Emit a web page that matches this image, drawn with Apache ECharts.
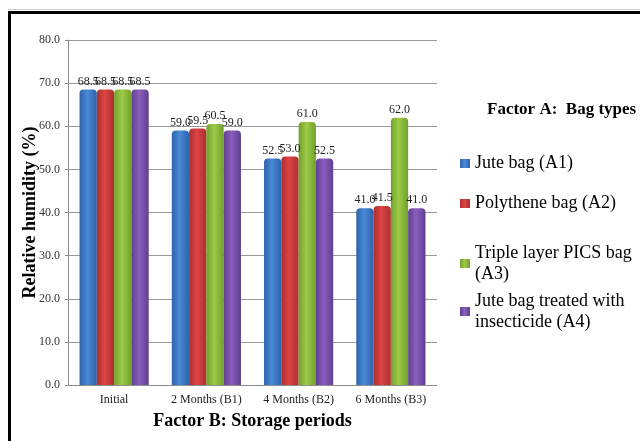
<!DOCTYPE html>
<html>
<head>
<meta charset="utf-8">
<script src="https://cdn.jsdelivr.net/npm/echarts@6/dist/echarts.min.js"></script>
<style>
html,body{margin:0;padding:0;background:#fff;}
#chart{position:absolute;left:0;top:0;width:640px;height:441px;}
#frame{position:absolute;left:8px;top:11px;width:700px;height:500px;border-left:3px solid #000;border-top:3px solid #000;pointer-events:none;}
#frame2{position:absolute;left:8px;top:9px;width:700px;height:1px;background:#ccc;}
</style>
</head>
<body>
<div id="chart"></div>
<div id="frame2"></div>
<div id="frame"></div>
<script>
const categories = ['Initial', '2 Months (B1)', '4 Months (B2)', '6 Months (B3)'];
const seriesNames = ['Jute bag (A1)', 'Polythene bag (A2)', 'Triple layer PICS bag\n(A3)', 'Jute bag treated with\ninsecticide (A4)'];
const juteBag = [68.5, 59.0, 52.5, 41.0];
const polytheneBag = [68.5, 59.5, 53.0, 41.5];
const picsBag = [68.5, 60.5, 61.0, 62.0];
const juteTreated = [68.5, 59.0, 52.5, 41.0];
const yTicks = [0, 10, 20, 30, 40, 50, 60, 70, 80];

const seriesValues = [juteBag, polytheneBag, picsBag, juteTreated];
const palette = [
  ['#2c62aa', '#4b8ad8', '#2c62aa'],
  ['#ad2e2e', '#de4444', '#ad2e2e'],
  ['#72a02c', '#9dca48', '#72a02c'],
  ['#5f4090', '#8a5ebc', '#5f4090']
];
const serif = '"Liberation Serif", "DejaVu Serif", serif';

function grad(c) {
  return new echarts.graphic.LinearGradient(0, 0, 1, 0, [
    {offset: 0, color: c[0]},
    {offset: 0.45, color: c[1]},
    {offset: 1, color: c[2]}
  ]);
}

const chart = echarts.init(document.getElementById('chart'), null, {renderer: 'canvas'});

const legendTops = [153, 193, 232, 280];
const legends = seriesNames.map((n, i) => {
  const two = n.indexOf('\n') >= 0;
  return {
    left: 460,
    top: legendTops[i],
    padding: 0,
    itemWidth: 10,
    itemHeight: 9,
    itemGap: 4,
    icon: 'rect',
    data: [n],
    selectedMode: false,
    textStyle: {
      fontFamily: serif,
      fontSize: 18,
      color: '#000',
      lineHeight: 21,
      padding: two ? [21, 0, 0, 0] : 0
    }
  };
});

chart.setOption({
  animation: false,
  backgroundColor: '#fff',
  color: palette.map(c => c[1]),
  title: {
    text: 'Factor A:  Bag types',
    left: 487,
    top: 101,
    padding: 0,
    textStyle: {fontFamily: serif, fontSize: 17, fontWeight: 'bold', color: '#000'}
  },
  legend: legends,
  grid: {left: 68, right: 203, top: 40, bottom: 56},
  xAxis: {
    type: 'category',
    data: categories,
    name: 'Factor B: Storage periods',
    nameLocation: 'middle',
    nameGap: 27,
    nameMoveOverlap: false,
    nameTextStyle: {fontFamily: serif, fontSize: 18, fontWeight: 'bold', color: '#000'},
    axisLine: {lineStyle: {color: '#8c8c8c'}},
    axisTick: {show: false},
    axisLabel: {fontFamily: serif, fontSize: 12, color: '#222', margin: 9}
  },
  yAxis: {
    type: 'value',
    min: yTicks[0],
    max: yTicks[yTicks.length - 1],
    interval: 10,
    name: 'Relative humidity (%)',
    nameLocation: 'middle',
    nameGap: 29,
    nameMoveOverlap: false,
    nameTextStyle: {fontFamily: serif, fontSize: 18, fontWeight: 'bold', color: '#000'},
    axisLine: {show: true, lineStyle: {color: '#8c8c8c'}},
    axisTick: {show: true, length: 3, lineStyle: {color: '#8c8c8c'}},
    splitLine: {lineStyle: {color: '#9a9a9a'}},
    axisLabel: {fontFamily: serif, fontSize: 12, color: '#333', margin: 8,
      formatter: v => v.toFixed(1)}
  },
  series: seriesValues.map((vals, i) => ({
    name: seriesNames[i],
    type: 'bar',
    data: vals,
    barGap: '0%',
    barCategoryGap: '25%',
    itemStyle: {color: grad(palette[i]), borderRadius: [4, 4, 0, 0]},
    label: {
      show: true,
      position: 'top',
      distance: 2,
      fontFamily: serif,
      fontSize: 12,
      color: '#222',
      formatter: p => p.value.toFixed(1)
    }
  }))
});
</script>
</body>
</html>
